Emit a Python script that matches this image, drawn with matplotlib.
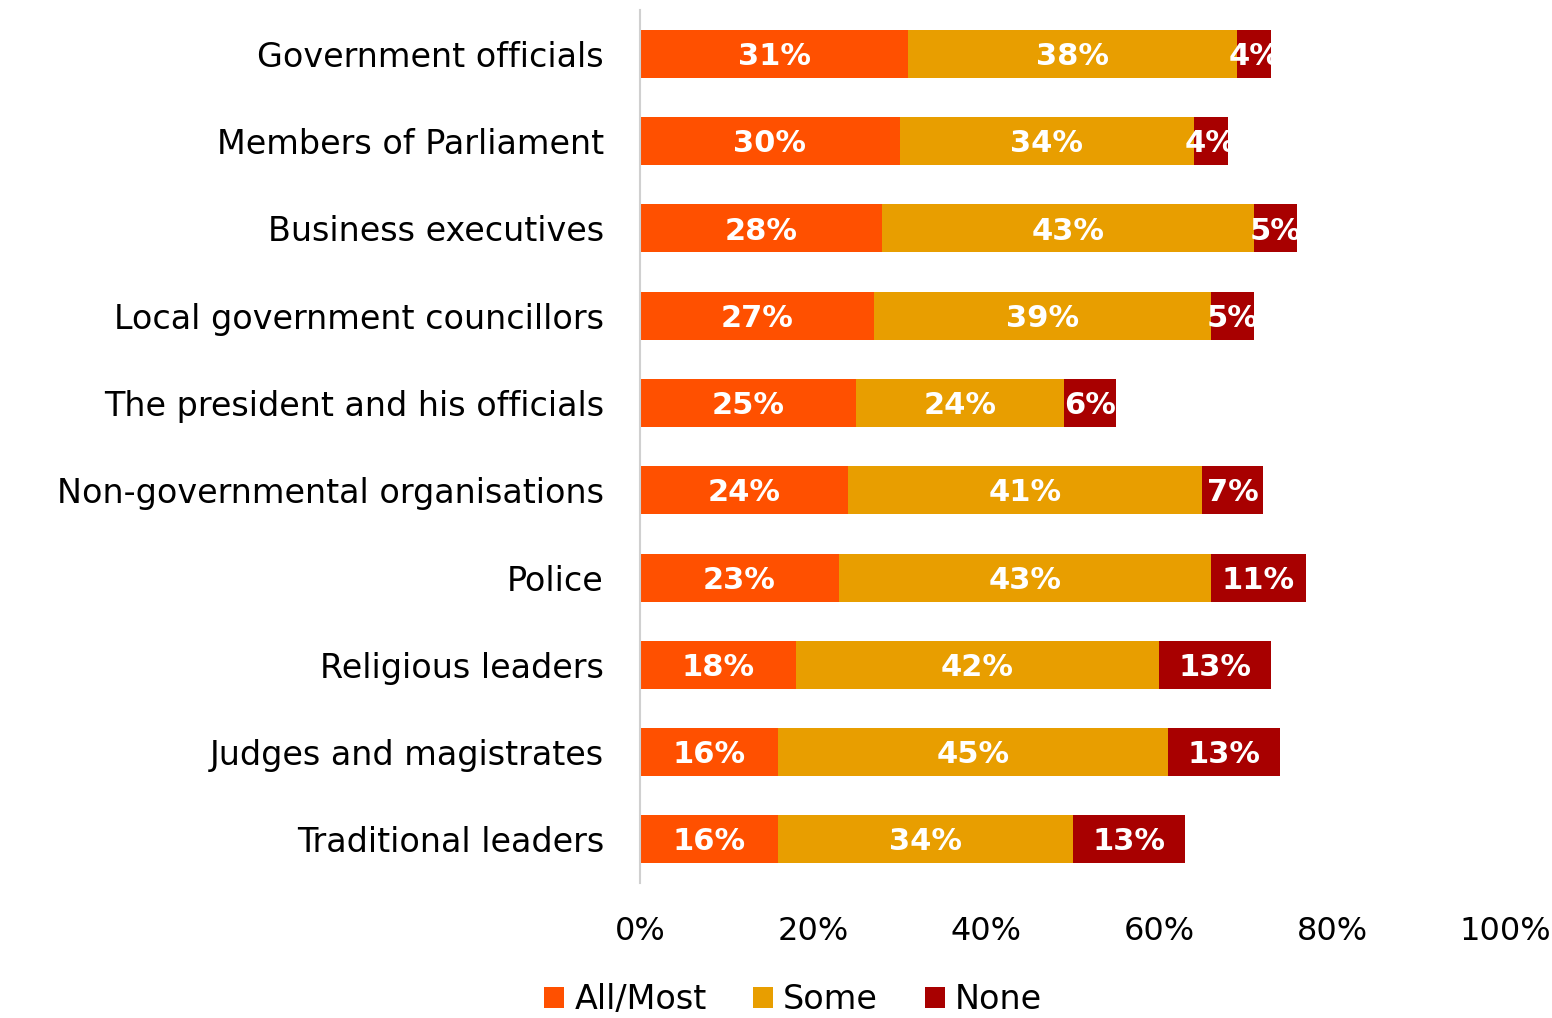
import matplotlib.pyplot as plt
import numpy as np

plt.rcParams["font.family"] = ["DejaVu Sans"]

categories = [
    "Government officials",
    "Members of Parliament",
    "Business executives",
    "Local government councillors",
    "The president and his officials",
    "Non-governmental organisations",
    "Police",
    "Religious leaders",
    "Judges and magistrates",
    "Traditional leaders",
]
all_most = [31, 30, 28, 27, 25, 24, 23, 18, 16, 16]
some = [38, 34, 43, 39, 24, 41, 43, 42, 45, 34]
none = [4, 4, 5, 5, 6, 7, 11, 13, 13, 13]

series = [
    ("All/Most", all_most, "#FF5000"),
    ("Some", some, "#E89E00"),
    ("None", none, "#A80000"),
]

fig = plt.figure(figsize=(15.52, 10.18), dpi=100)
ax = fig.add_axes([0.4124, 0.1326, 0.5573, 0.8574])

y = np.arange(len(categories))
left = np.zeros(len(categories))
handles = []
for name, vals, color in series:
    vals = np.array(vals, dtype=float)
    bars = ax.barh(y, vals, left=left, height=0.55, color=color, label=name)
    handles.append(bars)
    for yi, l, v in zip(y, left, vals):
        ax.text(l + v / 2, yi + 0.03, f"{int(v)}%", ha="center", va="center",
                color="white", fontsize=22, fontweight="bold")
    left += vals

ax.set_xlim(0, 100)
ax.set_ylim(len(categories) - 0.5, -0.5)
ax.set_yticks(y)
ax.set_yticklabels(categories, fontsize=24)
ax.set_xticks(np.arange(0, 101, 20))
ax.set_xticklabels([f"{t}%" for t in range(0, 101, 20)], fontsize=23)
ax.tick_params(axis="y", length=0, pad=26)
ax.tick_params(axis="x", length=0, pad=24)
for side in ["top", "right", "bottom"]:
    ax.spines[side].set_visible(False)
ax.spines["left"].set_color("#D0D0D0")
ax.spines["left"].set_linewidth(1.5)

fig.legend(handles=handles, labels=[s[0] for s in series], loc="center",
           bbox_to_anchor=(0.511, 0.018), ncol=3, frameon=False, fontsize=24,
           handlelength=0.6, handleheight=0.6, handletextpad=0.3,
           columnspacing=1.4)

fig.savefig("out.png", dpi=100)
